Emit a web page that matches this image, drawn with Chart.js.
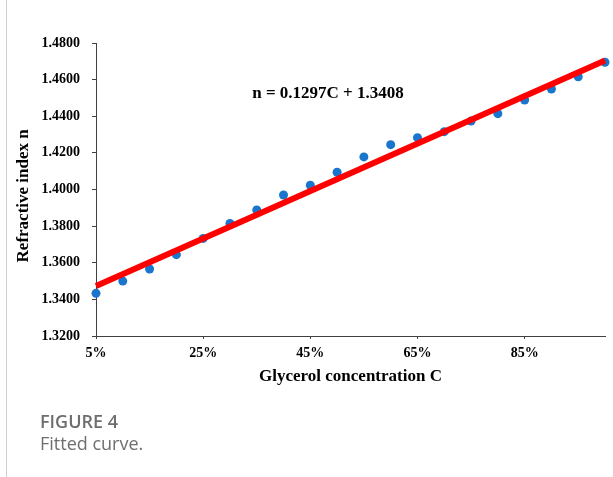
<!DOCTYPE html>
<html>
<head>
<meta charset="utf-8">
<script src="https://cdn.jsdelivr.net/npm/chart.js@4/dist/chart.umd.min.js"></script>
<style>
  body { margin: 0; background: #fff; }
  #wrap { position: relative; width: 613px; height: 477px; }
  #frame { position: absolute; left: 6px; top: 0; width: 1px; height: 477px; background: #d0d0d0; }
  #chart { position: absolute; left: 0; top: 0; }
  .cap { position: absolute; left: 40px; font-family: "Open Sans", "Noto Sans", sans-serif; color: #6e6e6e; font-size: 18px; line-height: 22px; }
  #figNo { top: 410px; font-weight: 600; }
  #figText { top: 432px; }
</style>
</head>
<body>
<div id="wrap">
  <div id="frame"></div>
  <canvas id="chart" width="613" height="477"></canvas>
  <div class="cap" id="figNo">FIGURE 4</div>
  <div class="cap" id="figText">Fitted curve.</div>
</div>
<script>
const concentration = [5, 10, 15, 20, 25, 30, 35, 40, 45, 50, 55, 60, 65, 70, 75, 80, 85, 90, 95, 100];
const refractiveIndex = [1.3433, 1.3500, 1.3566, 1.3644, 1.3733, 1.3815, 1.3888, 1.3970, 1.4023, 1.4094,
  1.4178, 1.4245, 1.4283, 1.4316, 1.4374, 1.4414, 1.4489, 1.4549, 1.4616, 1.4695];
const fitX = [5, 100];
const fitN = [1.3473, 1.4705];
const xTickValues = [5, 25, 45, 65, 85];
const equationText = "n = 0.1297C + 1.3408";

const serif = "'Liberation Serif', 'Times New Roman', serif";
const axisColor = "#404040";

// equation label, placed in data units
const equationLabel = {
  id: "equationLabel",
  afterDatasetsDraw(chart) {
    const ctx = chart.ctx;
    const x = chart.scales.x.getPixelForValue(48.3);
    const y = chart.scales.y.getPixelForValue(1.4500);
    ctx.save();
    ctx.font = "bold 17px " + serif;
    ctx.fillStyle = "#000";
    ctx.textAlign = "center";
    ctx.textBaseline = "alphabetic";
    ctx.fillText(equationText, x, y);
    ctx.restore();
  }
};

new Chart(document.getElementById("chart"), {
  type: "scatter",
  data: {
    datasets: [
      {
        label: "Fit",
        data: fitX.map((x, i) => ({ x: x, y: fitN[i] })),
        showLine: true,
        borderColor: "#ff0000",
        borderWidth: 6,
        pointRadius: 0,
        clip: false,
        order: 0
      },
      {
        label: "Measured",
        data: concentration.map((x, i) => ({ x: x, y: refractiveIndex[i] })),
        backgroundColor: "#1a75cc",
        borderWidth: 0,
        pointRadius: 4.5,
        clip: false,
        order: 1
      }
    ]
  },
  options: {
    responsive: false,
    animation: false,
    layout: { padding: { left: 0, top: 43, right: 8, bottom: 81 } },
    plugins: {
      legend: { display: false },
      tooltip: { enabled: false }
    },
    scales: {
      x: {
        type: "linear",
        min: 5,
        max: 100,
        afterBuildTicks: (scale) => {
          scale.ticks = xTickValues.map(v => ({ value: v }));
        },
        afterFit: (scale) => { scale.height = 60; },
        ticks: {
          padding: 6,
          color: "#000",
          font: { family: serif, size: 14, weight: "bold" },
          callback: (v) => v + "%"
        },
        grid: { drawOnChartArea: false, drawTicks: true, tickLength: 3, color: axisColor },
        border: { color: axisColor, width: 1 },
        title: {
          display: true,
          text: "Glycerol concentration C",
          color: "#000",
          font: { family: serif, size: 17, weight: "bold" },
          padding: { top: 0, bottom: 9 }
        }
      },
      y: {
        min: 1.32,
        max: 1.48,
        afterFit: (scale) => { scale.width = 96; },
        ticks: {
          stepSize: 0.02,
          padding: 12,
          color: "#000",
          font: { family: serif, size: 14, weight: "bold" },
          callback: (v) => v.toFixed(4)
        },
        grid: { drawOnChartArea: false, drawTicks: true, tickLength: 4, color: axisColor },
        border: { color: axisColor, width: 1 },
        title: {
          display: true,
          // trailing spaces nudge the title down a little, as in the original
          text: "Refractive index n   ",
          color: "#000",
          font: { family: serif, size: 17, weight: "bold" },
          padding: { top: 13, bottom: 0 }
        }
      }
    }
  },
  plugins: [equationLabel]
});
</script>
</body>
</html>
